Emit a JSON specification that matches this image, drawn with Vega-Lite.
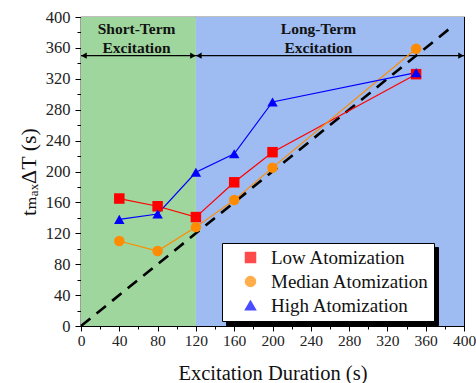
{
  "$schema": "https://vega.github.io/schema/vega-lite/v6.json",
  "width": 383,
  "height": 309,
  "autosize": {"type": "none"},
  "padding": {"left": 81, "top": 17, "right": 12, "bottom": 57},
  "background": "white",
  "config": {
    "font": "'Liberation Serif', 'DejaVu Serif', serif",
    "view": {"stroke": "black", "strokeWidth": 1.2}
  },
  "datasets": {
    "series": [
      {"series": "Low Atomization", "duration": 40, "t": 165},
      {"series": "Low Atomization", "duration": 80, "t": 155},
      {"series": "Low Atomization", "duration": 120, "t": 141},
      {"series": "Low Atomization", "duration": 160, "t": 186},
      {"series": "Low Atomization", "duration": 200, "t": 225},
      {"series": "Low Atomization", "duration": 350, "t": 326},
      {"series": "Median Atomization", "duration": 40, "t": 110},
      {"series": "Median Atomization", "duration": 80, "t": 97},
      {"series": "Median Atomization", "duration": 120, "t": 128},
      {"series": "Median Atomization", "duration": 160, "t": 163},
      {"series": "Median Atomization", "duration": 200, "t": 205},
      {"series": "Median Atomization", "duration": 350, "t": 359},
      {"series": "High Atomization", "duration": 40, "t": 138},
      {"series": "High Atomization", "duration": 80, "t": 145},
      {"series": "High Atomization", "duration": 120, "t": 199},
      {"series": "High Atomization", "duration": 160, "t": 223},
      {"series": "High Atomization", "duration": 200, "t": 290},
      {"series": "High Atomization", "duration": 350, "t": 328}
    ],
    "regions": [
      {"region": "Short-Term", "start": 0, "end": 120},
      {"region": "Long-Term", "start": 120, "end": 400}
    ],
    "diag": [{"d": 0}, {"d": 390}],
    "one": [{}]
  },
  "resolve": {"axis": {"x": "independent", "y": "independent"}},
  "layer": [
    {
      "data": {"name": "regions"},
      "mark": {"type": "rect"},
      "encoding": {
        "x": {
          "field": "start", "type": "quantitative",
          "scale": {"domain": [0, 400], "nice": false, "zero": false},
          "axis": {
            "orient": "bottom",
            "title": "Excitation Duration (s)",
            "titleFont": "Liberation Serif",
            "titleFontSize": 20.5, "titleFontWeight": "normal", "titleColor": "#111",
            "titlePadding": 15,
            "values": [0,20,40,60,80,100,120,140,160,180,200,220,240,260,280,300,320,340,360,380,400],
            "labelExpr": "datum.value % 40 === 0 ? datum.label : ''",
            "labelFont": "Liberation Serif",
            "labelFontSize": 15.5, "labelColor": "#222",
            "labelPadding": 2, "labelFlush": false, "labelOverlap": false,
            "tickSize": {"condition": {"test": "datum.value % 40 === 0", "value": 5}, "value": 3},
            "tickColor": "black", "tickWidth": 1,
            "domainColor": "black", "domainWidth": 1.2, "grid": false
          }
        },
        "x2": {"field": "end"},
        "fill": {
          "field": "region", "type": "nominal",
          "scale": {"domain": ["Short-Term", "Long-Term"], "range": ["#9fd69d", "#9ebcf1"]},
          "legend": null
        }
      }
    },
    {
      "data": {"name": "diag"},
      "mark": {"type": "line", "color": "black", "strokeWidth": 2.6, "strokeDash": [12, 8]},
      "encoding": {
        "x": {
          "field": "d", "type": "quantitative",
          "axis": {
            "orient": "top", "title": null, "labels": false,
            "values": [0,20,40,60,80,100,120,140,160,180,200,220,240,260,280,300,320,340,360,380,400],
            "tickSize": {"condition": {"test": "datum.value % 40 === 0", "value": -6}, "value": -4},
            "tickColor": "black", "domainColor": "black", "grid": false
          }
        },
        "y": {
          "field": "d", "type": "quantitative",
          "axis": {
            "orient": "right", "title": null, "labels": false,
            "values": [0,20,40,60,80,100,120,140,160,180,200,220,240,260,280,300,320,340,360,380,400],
            "tickSize": {"condition": {"test": "datum.value % 40 === 0", "value": -6}, "value": -4},
            "tickColor": "black", "domainColor": "black", "grid": false
          }
        }
      }
    },
    {
      "data": {"name": "regions"},
      "mark": {"type": "rule", "color": "black", "strokeWidth": 1.2},
      "encoding": {
        "x": {"field": "start", "type": "quantitative", "axis": null},
        "x2": {"field": "end"},
        "y": {
          "datum": 350, "type": "quantitative",
          "scale": {"domain": [0, 400], "nice": false, "zero": false},
          "axis": {
            "orient": "left",
            "title": "tₘₐₓΔT (s)",
            "titleFontSize": 22, "titleFontWeight": "normal", "titleColor": "#111",
            "titlePadding": 5,
            "values": [0,20,40,60,80,100,120,140,160,180,200,220,240,260,280,300,320,340,360,380,400],
            "labelExpr": "datum.value % 40 === 0 ? datum.label : ''",
            "labelFont": "Liberation Serif",
            "labelFontSize": 16.5, "labelColor": "#222",
            "labelPadding": 5, "labelFlush": false, "labelOverlap": false,
            "tickSize": {"condition": {"test": "datum.value % 40 === 0", "value": 6}, "value": 4},
            "tickColor": "black", "domainColor": "black", "domainWidth": 1.2, "grid": false
          }
        }
      }
    },
    {
      "data": {"name": "regions"},
      "mark": {"type": "point", "shape": "triangle-left", "filled": true, "color": "black", "opacity": 1, "size": 40, "xOffset": 3},
      "encoding": {
        "x": {"field": "start", "type": "quantitative", "axis": null},
        "y": {"datum": 350, "type": "quantitative", "axis": null}
      }
    },
    {
      "data": {"name": "regions"},
      "mark": {"type": "point", "shape": "triangle-right", "filled": true, "color": "black", "opacity": 1, "size": 40, "xOffset": -3},
      "encoding": {
        "x": {"field": "end", "type": "quantitative", "axis": null},
        "y": {"datum": 350, "type": "quantitative", "axis": null}
      }
    },
    {
      "data": {"name": "one"},
      "mark": {"type": "text", "text": ["Short-Term", "Excitation"], "font": "Liberation Serif", "fontSize": 15.5, "fontWeight": "bold", "color": "#111", "align": "center", "baseline": "middle", "lineHeight": 19},
      "encoding": {
        "x": {"datum": 58, "type": "quantitative", "axis": null},
        "y": {"datum": 384, "type": "quantitative", "axis": null}
      }
    },
    {
      "data": {"name": "one"},
      "mark": {"type": "text", "text": ["Long-Term", "Excitation"], "font": "Liberation Serif", "fontSize": 15.5, "fontWeight": "bold", "color": "#111", "align": "center", "baseline": "middle", "lineHeight": 19},
      "encoding": {
        "x": {"datum": 248, "type": "quantitative", "axis": null},
        "y": {"datum": 384, "type": "quantitative", "axis": null}
      }
    },
    {
      "data": {"name": "series"},
      "mark": {"type": "line", "strokeWidth": 1.2},
      "encoding": {
        "x": {"field": "duration", "type": "quantitative", "axis": null},
        "y": {"field": "t", "type": "quantitative", "axis": null},
        "color": {
          "field": "series", "type": "nominal",
          "scale": {"domain": ["Low Atomization", "Median Atomization", "High Atomization"], "range": ["#ff0000", "#ff8c00", "#0000ff"]}
        },
        "detail": {"field": "series"}
      }
    },
    {
      "data": {"name": "series"},
      "mark": {"type": "point", "filled": true, "size": 110},
      "encoding": {
        "x": {"field": "duration", "type": "quantitative", "axis": null},
        "y": {"field": "t", "type": "quantitative", "axis": null},
        "color": {
          "field": "series", "type": "nominal",
          "scale": {"domain": ["Low Atomization", "Median Atomization", "High Atomization"], "range": ["#ff0000", "#ff8c00", "#0000ff"]},
          "legend": {
            "title": null, "zindex": 2,
            "orient": "none", "legendX": 141, "legendY": 226,
            "fillColor": "white", "strokeColor": "black", "padding": 5, "cornerRadius": 0,
            "labelFont": "Liberation Serif",
            "labelFontSize": 19, "labelColor": "#111",
            "labelOffset": 11, "symbolOffset": 14, "rowPadding": 4,
            "symbolSize": 100
          }
        },
        "opacity": {
          "field": "series", "type": "nominal",
          "scale": {"range": [1, 1]},
          "legend": {
            "title": null, "zindex": 1,
            "orient": "none", "legendX": 145, "legendY": 230,
            "fillColor": "black", "strokeColor": "black", "padding": 5, "cornerRadius": 0,
            "labelFont": "Liberation Serif",
            "labelFontSize": 19, "labelColor": "black",
            "labelOffset": 11, "symbolOffset": 14, "rowPadding": 4,
            "symbolSize": 100
          }
        },
        "shape": {
          "field": "series", "type": "nominal",
          "scale": {"domain": ["Low Atomization", "Median Atomization", "High Atomization"], "range": ["square", "circle", "triangle-up"]},
          "legend": null
        }
      }
    }
  ]
}
